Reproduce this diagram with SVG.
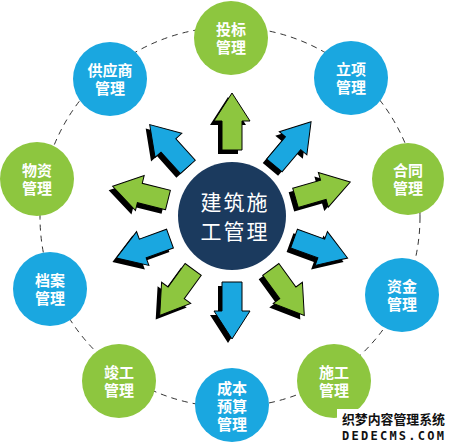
<svg xmlns="http://www.w3.org/2000/svg" xmlns:xlink="http://www.w3.org/1999/xlink" width="450" height="446" viewBox="0 0 450 446">
<style>
.g{fill:#8DC63F}
.b{fill:#1AA7E0}
.nt{font-family:"Liberation Sans","Noto Sans CJK SC",sans-serif;font-size:15px;font-weight:bold;fill:#fff;text-anchor:middle}
.ct{font-family:"Liberation Sans","Noto Sans CJK SC",sans-serif;font-size:21px;fill:#fff;text-anchor:middle;letter-spacing:2px}
.sh{fill:#000}
.ar{stroke:#000;stroke-width:1}
.ring{fill:none;stroke:#333;stroke-width:1;stroke-dasharray:6 5}
</style>
<defs>
<polygon id="arr" points="0,-10 29,-10 29,-18 57,0 29,18 29,10 0,10"/>
</defs>
<rect width="450" height="446" fill="#fff"/>
<g id="connectors">
<circle class="ring" cx="230" cy="217" r="190"/>
</g>
<g id="arrows">
<use href="#arr" class="sh" transform="translate(228,220) rotate(-90) translate(66,0)"/>
<use href="#arr" class="g ar" transform="translate(232,216) rotate(-90) translate(66,0)"/>
<use href="#arr" class="sh" transform="translate(228,220) rotate(-50) translate(66,0)"/>
<use href="#arr" class="b ar" transform="translate(232,216) rotate(-50) translate(66,0)"/>
<use href="#arr" class="sh" transform="translate(228,220) rotate(-16) translate(66,0)"/>
<use href="#arr" class="g ar" transform="translate(232,216) rotate(-16) translate(66,0)"/>
<use href="#arr" class="sh" transform="translate(228,220) rotate(20) translate(66,0)"/>
<use href="#arr" class="b ar" transform="translate(232,216) rotate(20) translate(66,0)"/>
<use href="#arr" class="sh" transform="translate(228,220) rotate(54) translate(66,0)"/>
<use href="#arr" class="g ar" transform="translate(232,216) rotate(54) translate(66,0)"/>
<use href="#arr" class="sh" transform="translate(228,220) rotate(90) translate(66,0)"/>
<use href="#arr" class="b ar" transform="translate(232,216) rotate(90) translate(66,0)"/>
<use href="#arr" class="sh" transform="translate(228,220) rotate(126) translate(66,0)"/>
<use href="#arr" class="g ar" transform="translate(232,216) rotate(126) translate(66,0)"/>
<use href="#arr" class="sh" transform="translate(228,220) rotate(160) translate(66,0)"/>
<use href="#arr" class="b ar" transform="translate(232,216) rotate(160) translate(66,0)"/>
<use href="#arr" class="sh" transform="translate(228,220) rotate(194) translate(66,0)"/>
<use href="#arr" class="g ar" transform="translate(232,216) rotate(194) translate(66,0)"/>
<use href="#arr" class="sh" transform="translate(228,220) rotate(228) translate(66,0)"/>
<use href="#arr" class="b ar" transform="translate(232,216) rotate(228) translate(66,0)"/>
</g>
<g id="center">
<circle cx="232" cy="216" r="54" fill="#1B3A5E"/>
<text class="ct" x="235" y="210">建筑施<tspan x="235" dy="29">工管理</tspan></text>
</g>
<g id="n-toubiao"><circle class="g" cx="231" cy="38" r="37"/><text class="nt" x="231" y="35">投标<tspan x="231" dy="18">管理</tspan></text></g>
<g id="n-lixiang"><circle class="b" cx="351" cy="78" r="37"/><text class="nt" x="351" y="75">立项<tspan x="351" dy="18">管理</tspan></text></g>
<g id="n-hetong"><circle class="g" cx="408" cy="179" r="36"/><text class="nt" x="408" y="176">合同<tspan x="408" dy="18">管理</tspan></text></g>
<g id="n-zijin"><circle class="b" cx="402" cy="295" r="37"/><text class="nt" x="402" y="292">资金<tspan x="402" dy="18">管理</tspan></text></g>
<g id="n-shigong"><circle class="g" cx="334" cy="381" r="37"/><text class="nt" x="334" y="378">施工<tspan x="334" dy="18">管理</tspan></text></g>
<g id="n-chengben"><circle class="b" cx="232" cy="405" r="37"/><text class="nt" x="232" y="394">成本<tspan x="232" dy="18">预算</tspan><tspan x="232" dy="18">管理</tspan></text></g>
<g id="n-jungong"><circle class="g" cx="119" cy="381" r="37"/><text class="nt" x="119" y="378">竣工<tspan x="119" dy="18">管理</tspan></text></g>
<g id="n-dangan"><circle class="b" cx="50" cy="289" r="37"/><text class="nt" x="50" y="286">档案<tspan x="50" dy="18">管理</tspan></text></g>
<g id="n-wuzi"><circle class="g" cx="37" cy="179" r="37"/><text class="nt" x="37" y="176">物资<tspan x="37" dy="18">管理</tspan></text></g>
<g id="n-gongying"><circle class="b" cx="110" cy="79" r="37"/><text class="nt" x="110" y="76">供应商<tspan x="110" dy="18">管理</tspan></text></g>
<g id="watermark">
<rect x="337" y="409" width="113" height="37" fill="#fff"/>
<text x="342" y="424" font-family="Liberation Sans,Noto Sans CJK SC,sans-serif" font-size="13" font-weight="bold" fill="#111" textLength="103" lengthAdjust="spacingAndGlyphs">织梦内容管理系统</text>
<text x="342" y="440" font-family="DejaVu Sans Mono,monospace" font-size="12" font-weight="bold" fill="#111" textLength="102" lengthAdjust="spacing">DEDECMS.COM</text>
</g>
</svg>
